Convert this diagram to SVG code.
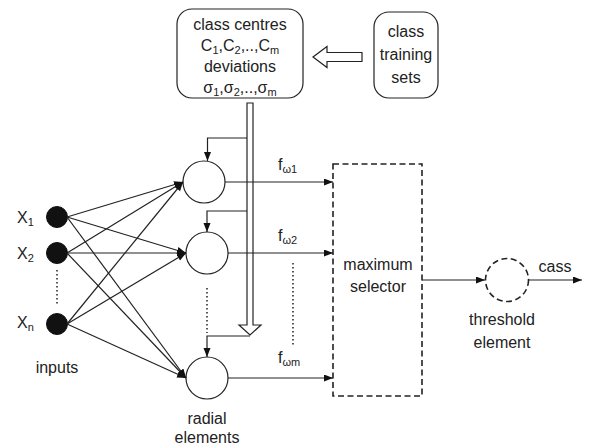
<svg xmlns="http://www.w3.org/2000/svg" width="590" height="445" viewBox="0 0 590 445">
<style>
text{font-family:"Liberation Sans",Arial,sans-serif;font-size:16px;fill:#222}
.mid{text-anchor:middle}
.sub{font-size:11px}
.ln{fill:none;stroke:#222;stroke-width:1.2}
.box{fill:#fff;stroke:#222;stroke-width:1.2}
.dash{fill:#fff;stroke:#222;stroke-width:1.6;stroke-dasharray:6,3.5}
.dot{fill:none;stroke:#222;stroke-width:1.5;stroke-dasharray:1.5,2.5}
.in{fill:#111;stroke:#111}
.arr{fill:none;stroke:#222;stroke-width:1.2;marker-end:url(#ah)}
</style>
<defs>
<marker id="ah" markerUnits="userSpaceOnUse" markerWidth="10" markerHeight="8" refX="9" refY="3.5" orient="auto">
<path d="M0,0 L9,3.5 L0,7 z" fill="#111"/>
</marker>
</defs>

<g id="centres">
<rect class="box" x="177" y="9" width="126" height="89" rx="15"/>
<text class="mid" x="240" y="29.5">class centres</text>
<text class="mid" x="240" y="50.5">C<tspan class="sub" dy="3">1</tspan><tspan dy="-3">,C</tspan><tspan class="sub" dy="3">2</tspan><tspan dy="-3">,..,C</tspan><tspan class="sub" dy="3">m</tspan></text>
<text class="mid" x="240" y="71.5">deviations</text>
<text class="mid" x="240" y="92.5">σ<tspan class="sub" dy="3">1</tspan><tspan dy="-3">,σ</tspan><tspan class="sub" dy="3">2</tspan><tspan dy="-3">,..,σ</tspan><tspan class="sub" dy="3">m</tspan></text>
</g>

<g id="training">
<rect class="box" x="374" y="12" width="64" height="86" rx="15"/>
<text class="mid" x="406" y="37">class</text>
<text class="mid" x="406" y="60">training</text>
<text class="mid" x="406" y="83">sets</text>
</g>

<g id="inputs">
<circle class="in" cx="57" cy="217" r="10.5"/>
<circle class="in" cx="57" cy="253" r="10.5"/>
<circle class="in" cx="57" cy="324" r="10.5"/>
<text x="17" y="223">X<tspan class="sub" dy="3">1</tspan></text>
<text x="17" y="259">X<tspan class="sub" dy="3">2</tspan></text>
<text x="17" y="328">X<tspan class="sub" dy="3">n</tspan></text>
<line class="dot" x1="57" y1="270" x2="57" y2="306"/>
<text class="mid" x="57" y="373">inputs</text>
</g>

<g id="radial">
<circle class="box" cx="204" cy="182" r="21"/>
<circle class="box" cx="207" cy="253" r="21"/>
<circle class="box" cx="207" cy="378" r="21"/>
<line class="dot" x1="207" y1="288" x2="207" y2="333"/>
<text class="mid" x="207" y="424">radial</text>
<text class="mid" x="207" y="443">elements</text>
</g>

<g id="selector">
<rect class="dash" x="333" y="164" width="89" height="232"/>
<text class="mid" x="378" y="270">maximum</text>
<text class="mid" x="378" y="292">selector</text>
</g>

<g id="threshold">
<circle class="dash" cx="507" cy="280" r="21.5"/>
<text class="mid" x="502" y="325">threshold</text>
<text class="mid" x="502" y="348">element</text>
</g>

<g id="connectors">
<polygon class="box" points="313,57 327,46.5 327,52.5 362,52.5 362,61.5 327,61.5 327,67.5"/>
<polygon class="ln" points="247,103 253,103 253,325 261,325 250,335 239,325 247,325"/>
<path class="arr" d="M247,138 H207.5 V161"/>
<path class="arr" d="M247,211 H207 V232"/>
<path class="arr" d="M250,336 H207 V357"/>
<line class="arr" x1="67" y1="217" x2="183" y2="182"/>
<line class="arr" x1="67" y1="217" x2="186" y2="253"/>
<line class="arr" x1="67" y1="217" x2="186" y2="378"/>
<line class="arr" x1="67" y1="253" x2="183" y2="182"/>
<line class="arr" x1="67" y1="253" x2="186" y2="253"/>
<line class="arr" x1="67" y1="253" x2="186" y2="378"/>
<line class="arr" x1="67" y1="324" x2="183" y2="182"/>
<line class="arr" x1="67" y1="324" x2="186" y2="253"/>
<line class="arr" x1="67" y1="324" x2="186" y2="378"/>
<line class="arr" x1="225" y1="182" x2="333" y2="182"/>
<line class="arr" x1="228" y1="253" x2="333" y2="253"/>
<line class="arr" x1="228" y1="378" x2="333" y2="378"/>
<line class="arr" x1="422" y1="280" x2="485" y2="280"/>
<line class="arr" x1="528.5" y1="280" x2="582" y2="280"/>
<line class="dot" x1="293" y1="263" x2="293" y2="345"/>
<text x="278" y="170">f<tspan class="sub" dy="3">ω1</tspan></text>
<text x="278" y="241">f<tspan class="sub" dy="3">ω2</tspan></text>
<text x="278" y="363">f<tspan class="sub" dy="3">ωm</tspan></text>
<text class="mid" x="555" y="272">cass</text>
</g>
</svg>
